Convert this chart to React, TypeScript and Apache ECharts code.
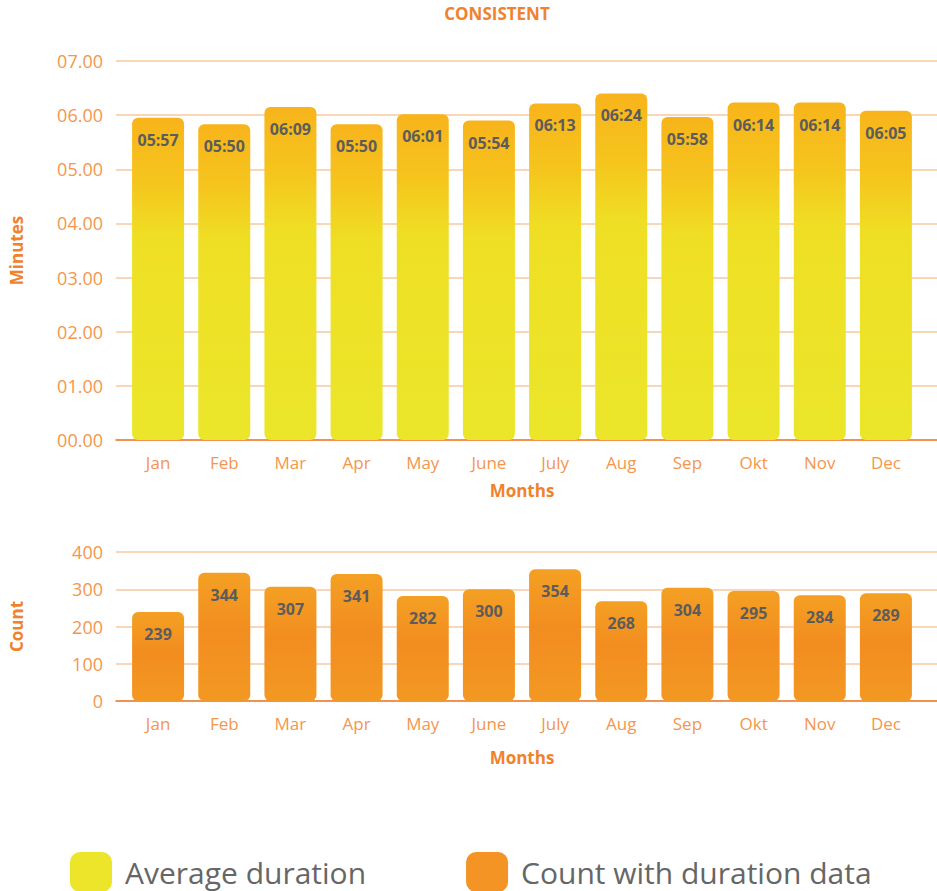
import React, { useEffect, useRef } from 'react';
import * as echarts from 'echarts';

const months = ['Jan', 'Feb', 'Mar', 'Apr', 'May', 'June', 'July', 'Aug', 'Sep', 'Okt', 'Nov', 'Dec'];
// average duration per month, in seconds (labels show mm:ss)
const avgDurationSeconds = [357, 350, 369, 350, 361, 354, 373, 384, 358, 374, 374, 365];
const countWithDuration = [239, 344, 307, 341, 282, 300, 354, 268, 304, 295, 284, 289];
const minuteAxis = { min: 0, max: 7, interval: 1 };
const countAxis = { min: 0, max: 400, interval: 100 };

const FONT = '"Open Sans", "Noto Sans", sans-serif';
const TICK_COLOR = '#f5964c';
const NAME_COLOR = '#f0822e';
const SPLIT_COLOR = '#f9c9a2';
const AXIS_COLOR = '#f07a2a';
const VALUE_COLOR = '#5c5c5c';

const pad2 = (n: number) => (n < 10 ? '0' : '') + n;
const fmtMinSec = (minutes: number) => {
  const s = Math.round(minutes * 60);
  return pad2(Math.floor(s / 60)) + ':' + pad2(s % 60);
};

export default function App() {
  const ref = useRef<HTMLDivElement>(null);
  useEffect(() => {
    document.body.style.margin = '0';
    const chart = echarts.init(ref.current!, null, { renderer: 'svg' });
    const yellowGrad = new echarts.graphic.LinearGradient(0, 0, 0, 1, [
      { offset: 0, color: '#f8b41b' },
      { offset: 0.2, color: '#f5c51d' },
      { offset: 0.37, color: '#efdf24' },
      { offset: 1, color: '#ebe62a' },
    ]);
    const orangeGrad = new echarts.graphic.LinearGradient(0, 0, 0, 1, [
      { offset: 0, color: '#f4a023' },
      { offset: 0.45, color: '#f28d20' },
      { offset: 1, color: '#f39823' },
    ]);
    const tickLabel = { color: TICK_COLOR, fontFamily: FONT, fontSize: 18, fontWeight: 'normal' as any };
    const nameStyle = { color: NAME_COLOR, fontFamily: FONT, fontSize: 17, fontWeight: 'bold' as any };
    const top = 61, topH = 379, bot = 552, botH = 149;
    chart.setOption({
      animation: false,
      title: {
        text: 'CONSISTENT',
        left: 492,
        textAlign: 'center',
        top: 0,
        textStyle: { color: NAME_COLOR, fontFamily: FONT, fontSize: 17, fontWeight: 'bold' },
      },
      legend: {
        left: 65,
        top: 847,
        itemWidth: 42,
        itemHeight: 40,
        itemGap: 100,
        icon: 'roundRect',
        textStyle: { color: '#666666', fontFamily: FONT, fontSize: 30, fontWeight: 'normal', padding: [0, 0, 0, 8] },
        data: [
          { name: 'Average duration', itemStyle: { color: '#ece52a' } },
          { name: 'Count with duration data', itemStyle: { color: '#f39424' } },
        ],
      },
      grid: [
        { left: 125, right: 18, top, height: topH },
        { left: 115, right: 0, top, height: topH },
        { left: 125, right: 18, top: bot, height: botH },
        { left: 115, right: 0, top: bot, height: botH },
      ],
      xAxis: [
        {
          gridIndex: 0,
          type: 'category',
          data: months,
          axisLine: { show: false },
          axisTick: { show: false },
          axisLabel: { ...tickLabel, fontSize: 17, margin: 14 },
          name: 'Months',
          nameLocation: 'middle',
          nameGap: 42,
          nameTextStyle: nameStyle,
        },
        {
          gridIndex: 1,
          type: 'value',
          min: 0,
          max: 1,
          axisLine: { show: true, lineStyle: { color: AXIS_COLOR, width: 1.5 } },
          axisTick: { show: false },
          axisLabel: { show: false },
          splitLine: { show: false },
        },
        {
          gridIndex: 2,
          type: 'category',
          data: months,
          axisLine: { show: false },
          axisTick: { show: false },
          axisLabel: { ...tickLabel, fontSize: 17, margin: 14 },
          name: 'Months',
          nameLocation: 'middle',
          nameGap: 48,
          nameTextStyle: nameStyle,
        },
        {
          gridIndex: 3,
          type: 'value',
          min: 0,
          max: 1,
          axisLine: { show: true, lineStyle: { color: AXIS_COLOR, width: 1.5 } },
          axisTick: { show: false },
          axisLabel: { show: false },
          splitLine: { show: false },
        },
      ],
      yAxis: [
        { gridIndex: 0, type: 'value', ...minuteAxis, show: false },
        {
          gridIndex: 1,
          type: 'value',
          ...minuteAxis,
          axisLine: { show: false },
          axisTick: { show: false },
          axisLabel: { ...tickLabel, margin: 13, formatter: (v: number) => pad2(v) + '.00' },
          splitLine: { lineStyle: { color: SPLIT_COLOR, width: 1.5 } },
          name: 'Minutes',
          nameLocation: 'middle',
          nameGap: 91,
          nameTextStyle: nameStyle,
        },
        { gridIndex: 2, type: 'value', ...countAxis, show: false },
        {
          gridIndex: 3,
          type: 'value',
          ...countAxis,
          axisLine: { show: false },
          axisTick: { show: false },
          axisLabel: { ...tickLabel, margin: 13 },
          splitLine: { lineStyle: { color: SPLIT_COLOR, width: 1.5 } },
          name: 'Count',
          nameLocation: 'middle',
          nameGap: 91,
          nameTextStyle: nameStyle,
        },
      ],
      series: [
        {
          name: 'Average duration',
          type: 'bar',
          xAxisIndex: 0,
          yAxisIndex: 0,
          barWidth: 52,
          data: avgDurationSeconds.map((s) => s / 60),
          itemStyle: { color: yellowGrad, borderRadius: 6 },
          label: {
            show: true,
            position: 'insideTop',
            distance: 14,
            color: VALUE_COLOR,
            fontFamily: FONT,
            fontSize: 16,
            fontWeight: 'bold',
            formatter: (p: any) => fmtMinSec(p.value),
          },
        },
        {
          name: 'Count with duration data',
          type: 'bar',
          xAxisIndex: 2,
          yAxisIndex: 2,
          barWidth: 52,
          data: countWithDuration,
          itemStyle: { color: orangeGrad, borderRadius: 6 },
          label: {
            show: true,
            position: 'insideTop',
            distance: 14,
            color: VALUE_COLOR,
            fontFamily: FONT,
            fontSize: 16,
            fontWeight: 'bold',
          },
        },
      ],
    });
    return () => chart.dispose();
  }, []);
  return <div ref={ref} style={{ width: 937, height: 891 }} />;
}
